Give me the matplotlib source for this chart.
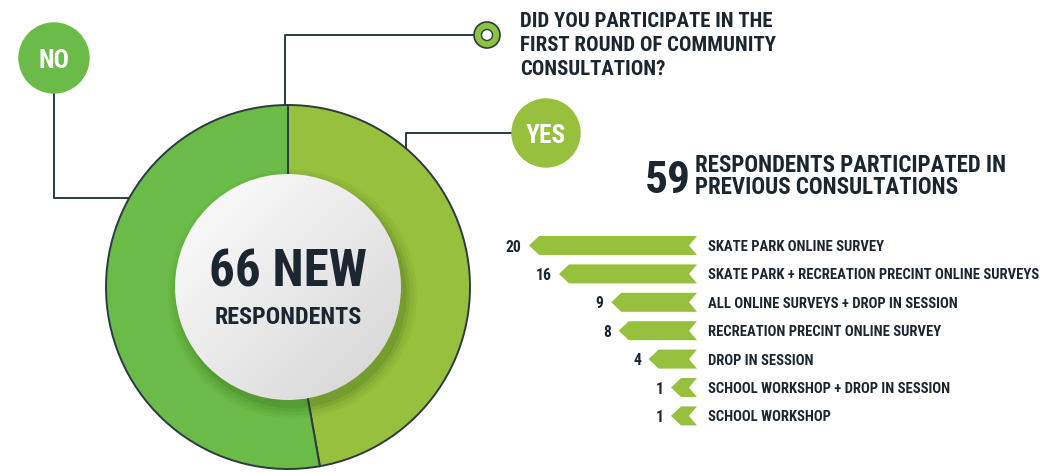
import numpy as np
import matplotlib
matplotlib.use("Agg")
import matplotlib.pyplot as plt
from matplotlib import font_manager
from matplotlib.patches import Circle, Polygon

# ---- data ----
answer_labels = ["YES", "NO"]
answer_counts = [59, 66]
answer_colors = ["#97c03d", "#6abb47"]

question_lines = ["DID YOU PARTICIPATE IN THE",
                  "FIRST ROUND OF COMMUNITY",
                  "CONSULTATION?"]
center_number = "66 NEW"
center_caption = "RESPONDENTS"
header_number = "59"
header_lines = ["RESPONDENTS PARTICIPATED IN", "PREVIOUS CONSULTATIONS"]

activity_labels = [
    "SKATE PARK ONLINE SURVEY",
    "SKATE PARK + RECREATION PRECINT ONLINE SURVEYS",
    "ALL ONLINE SURVEYS + DROP IN SESSION",
    "RECREATION PRECINT ONLINE SURVEY",
    "DROP IN SESSION",
    "SCHOOL WORKSHOP + DROP IN SESSION",
    "SCHOOL WORKSHOP",
]
activity_counts = [20, 16, 9, 8, 4, 1, 1]

DARK = "#1b2631"
LINE = "#2c3a42"
BAR = "#97c03d"

# look for a narrow bold face, otherwise fall back to Roboto
entries = font_manager.fontManager.ttflist
names = {f.name for f in entries}
FONT, STRETCH = None, "normal"
for n in ["Roboto Condensed", "Liberation Sans Narrow", "Noto Sans Condensed",
          "Open Sans Condensed", "DejaVu Sans Condensed", "Arial Narrow"]:
    if n in names:
        FONT = n
        break
if FONT is None:
    cond = [f for f in entries
            if str(f.stretch) in ("condensed", "semi-condensed", "extra-condensed")
            and f.name in ("Noto Sans", "Open Sans", "DejaVu Sans", "Roboto", "Inter")]
    if cond:
        FONT, STRETCH = cond[0].name, "condensed"
    elif "Roboto" in names:
        FONT = "Roboto"
    else:
        FONT = "DejaVu Sans"
plt.rcParams["font.family"] = [FONT, "DejaVu Sans"]
plt.rcParams["font.weight"] = "bold"

W, H = 1040, 473
fig = plt.figure(figsize=(W / 100, H / 100), dpi=100)
renderer = fig.canvas.get_renderer()


def px_axes(x0, y0, x1, y1):
    return fig.add_axes([x0 / W, 1 - y1 / H, (x1 - x0) / W, (y1 - y0) / H])


def fit(texts, width, size):
    # shrink a group of texts so that the widest one is no wider than `width` px
    for t in texts:
        t.set_fontsize(size)
    widest = max(t.get_window_extent(renderer).width for t in texts)
    if widest > width:
        for t in texts:
            t.set_fontsize(size * width / widest)


# background axes in pixel units (connectors, bubbles, headings)
bg = fig.add_axes([0, 0, 1, 1], zorder=0)
bg.set_xlim(0, W)
bg.set_ylim(H, 0)
bg.axis("off")

# donut
cx, cy, R, L = 288, 287, 182, 1.04
pie_ax = px_axes(cx - R * L, cy - R * L, cx + R * L, cy + R * L)
pie_ax.set_zorder(1)
pie_ax.pie(answer_counts, colors=answer_colors, startangle=90, counterclock=False,
           radius=1, wedgeprops=dict(edgecolor=LINE, linewidth=1.4))
pie_ax.set_xlim(-L, L)
pie_ax.set_ylim(-L, L)
pie_ax.axis("off")

r_in = 113 / R
# soft shadow under the white disc
for s, a in zip([1.10, 1.07, 1.04, 1.01], [0.05, 0.07, 0.10, 0.14]):
    pie_ax.add_patch(Circle((0.025, -0.04), r_in * s, color="#2f5a12", alpha=a, lw=0, zorder=3))
# white disc with a light gradient
xx, yy = np.meshgrid(np.linspace(-1, 1, 300), np.linspace(-1, 1, 300))
g = 1.0 - 0.17 * np.clip((xx - yy + 2) / 4, 0, 1)
im = pie_ax.imshow(np.dstack([g, g, g]), extent=[-r_in, r_in, -r_in, r_in],
                   origin="lower", zorder=4)
im.set_clip_path(Circle((0, 0), r_in, transform=pie_ax.transData))
pie_ax.set_xlim(-L, L)
pie_ax.set_ylim(-L, L)
t_num = pie_ax.text(0, 0.11, center_number, ha="center", va="center_baseline",
                    color=DARK, fontstretch=STRETCH, zorder=5)
t_cap = pie_ax.text(0, -0.155, center_caption, ha="center", va="center_baseline",
                    color=DARK, fontstretch=STRETCH, zorder=5)
fit([t_num], 158, 45)
fit([t_cap], 147, 20)

# connectors
bg.plot([54, 54, 129], [93, 198, 198], color=LINE, lw=1.4, zorder=1)
bg.plot([285, 285, 474], [106, 35, 35], color=LINE, lw=1.4, zorder=1)
bg.plot([406, 406, 512], [149, 133, 133], color=LINE, lw=1.4, zorder=1)

# NO / YES bubbles
bg.add_patch(Circle((54, 58), 35, color=answer_colors[1], zorder=2))
t_no = bg.text(54, 58, answer_labels[1], ha="center", va="center_baseline", color="white",
               fontstretch=STRETCH, zorder=3)
bg.add_patch(Circle((546, 133), 34, color=answer_colors[0], zorder=2))
t_yes = bg.text(546, 133, answer_labels[0], ha="center", va="center_baseline", color="white",
                fontstretch=STRETCH, zorder=3)
fit([t_yes], 40, 21)
t_no.set_fontsize(t_yes.get_fontsize())

# ring marker
bg.add_patch(Circle((487, 35), 13, fc="#8cc43f", ec=LINE, lw=1.2, zorder=2))
bg.add_patch(Circle((487, 35), 5.5, fc="white", ec=LINE, lw=1.0, zorder=3))

# question
q_texts = [bg.text(520, 27 + 23.8 * i, line, ha="left", va="baseline",
                   color=DARK, fontstretch=STRETCH)
           for i, line in enumerate(question_lines)]
fit(q_texts, 256, 17)

# 59 heading
t59 = bg.text(645, 193, header_number, ha="left", va="baseline",
              color=DARK, fontstretch=STRETCH)
fit([t59], 46, 38)
h_texts = [bg.text(695, 172 + 21.5 * i, line, ha="left", va="baseline",
                   color=DARK, fontstretch=STRETCH)
           for i, line in enumerate(header_lines)]
fit(h_texts, 312, 17)

# arrow bars
k = 7.47          # px per respondent
right_px = 697
row0, step = 245.5, 28.4
bx = px_axes(470, 228, 700, 432)
bx.set_xlim(-(right_px - 470) / k, (700 - right_px) / k)
bx.set_ylim((432 - row0) / step, (228 - row0) / step)
bx.axis("off")
h = 9.5 / step
tip, notch, base = 10 / k, 8 / k, 18.5 / k
v_texts, c_texts = [], []
for i, (lab, v) in enumerate(zip(activity_labels, activity_counts)):
    left = v + base
    pts = [(0, i - h), (-(left - tip), i - h), (-left, i), (-(left - tip), i + h),
           (0, i + h), (-notch, i)]
    bx.add_patch(Polygon(pts, closed=True, fc=BAR, ec="none"))
    v_texts.append(bx.annotate(str(v), xy=(-left, i), xytext=(-5.5, 0),
                               textcoords="offset points", ha="right",
                               va="center_baseline", color=DARK,
                               fontstretch=STRETCH, annotation_clip=False))
    c_texts.append(bx.annotate(lab, xy=(0, i), xytext=(8, 0), textcoords="offset points",
                               ha="left", va="center_baseline", color=DARK,
                               fontstretch=STRETCH, annotation_clip=False))
fit(c_texts, 330, 12.5)
fit(v_texts, 16, 12.5)

fig.savefig("out.png", dpi=100)
